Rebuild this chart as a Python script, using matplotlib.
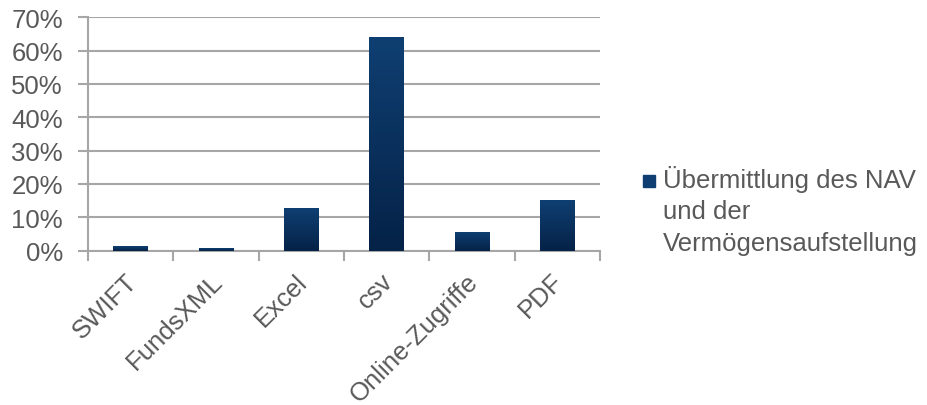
import numpy as np
import matplotlib
matplotlib.use("Agg")
import matplotlib.pyplot as plt
from matplotlib.colors import LinearSegmentedColormap
from matplotlib.ticker import FixedLocator, FuncFormatter
from matplotlib.transforms import ScaledTranslation
import matplotlib.patheffects as pe

categories = ["SWIFT", "FundsXML", "Excel", "csv", "Online-Zugriffe", "PDF"]
shares = [1.4, 0.8, 12.8, 64.2, 5.6, 15.2]
series_name = "Übermittlung des NAV\nund der\nVermögensaufstellung"

plt.rcParams['font.family'] = ['Liberation Sans', 'DejaVu Sans']
text_col = "#595959"
grid_col = "#A6A6A6"
bar_top = "#0F3F72"
bar_bottom = "#052247"
fsize = 18.5

fig = plt.figure(figsize=(9.28, 4.06), dpi=100)
ax = fig.add_axes([88/928, 1-251.5/406, 512/928, 233.3/406])

x = np.arange(len(categories))
bars = ax.bar(x, shares, width=0.41, color=bar_top, zorder=3,
              path_effects=[pe.SimplePatchShadow(offset=(0, 0), shadow_rgbFace="#C8C8C8", alpha=0.6),
                            pe.Normal()])

# vertical gradient inside each bar
cmap = LinearSegmentedColormap.from_list("navgrad", [bar_bottom, bar_top])
grad = np.linspace(0, 1, 256).reshape(-1, 1)
for b in bars:
    x0, y0 = b.get_x(), b.get_y()
    w, h = b.get_width(), b.get_height()
    im = ax.imshow(grad, extent=[x0, x0 + w, y0, y0 + h], origin="lower",
                   cmap=cmap, aspect="auto", zorder=4)
    im.set_clip_path(b)

ax.set_xlim(-0.5, len(categories) - 0.5)
ax.set_ylim(0, 70)

ax.yaxis.set_major_locator(FixedLocator(np.arange(0, 71, 10)))
ax.yaxis.set_major_formatter(FuncFormatter(lambda v, p: f"{v:.0f}%"))
ax.grid(axis="y", color=grid_col, linewidth=1.5, zorder=1)

ax.set_xticks(np.arange(-0.5, len(categories), 1.0))
ax.set_xticklabels([])
ax.set_xticks(x, minor=True)
ax.set_xticklabels(categories, minor=True, rotation=45, ha="right",
                   rotation_mode="anchor", fontsize=fsize, color=text_col)
ax.tick_params(axis="x", which="minor", length=0, pad=13)
ax.tick_params(axis="x", which="major", length=7, width=1.5, color=grid_col)
ax.tick_params(axis="y", length=7, width=1.5, color=grid_col, labelsize=fsize,
               labelcolor=text_col, pad=11)
shift = ScaledTranslation(-0.06, 0, fig.dpi_scale_trans)
for lbl in ax.get_xticklabels(minor=True):
    lbl.set_transform(lbl.get_transform() + shift)

for s in ["top", "right"]:
    ax.spines[s].set_visible(False)
for s in ["left", "bottom"]:
    ax.spines[s].set_color(grid_col)
    ax.spines[s].set_linewidth(1.5)

# legend entry
fig.patches.append(plt.Rectangle((643/928, 1-188/406), 12/928, 12/406,
                                 transform=fig.transFigure, color=bar_top))
fig.text(663/928, 1-166/406, series_name, fontsize=fsize, color=text_col,
         va="top", ha="left", linespacing=1.39, transform=fig.transFigure)

fig.savefig("out.png", dpi=100)
